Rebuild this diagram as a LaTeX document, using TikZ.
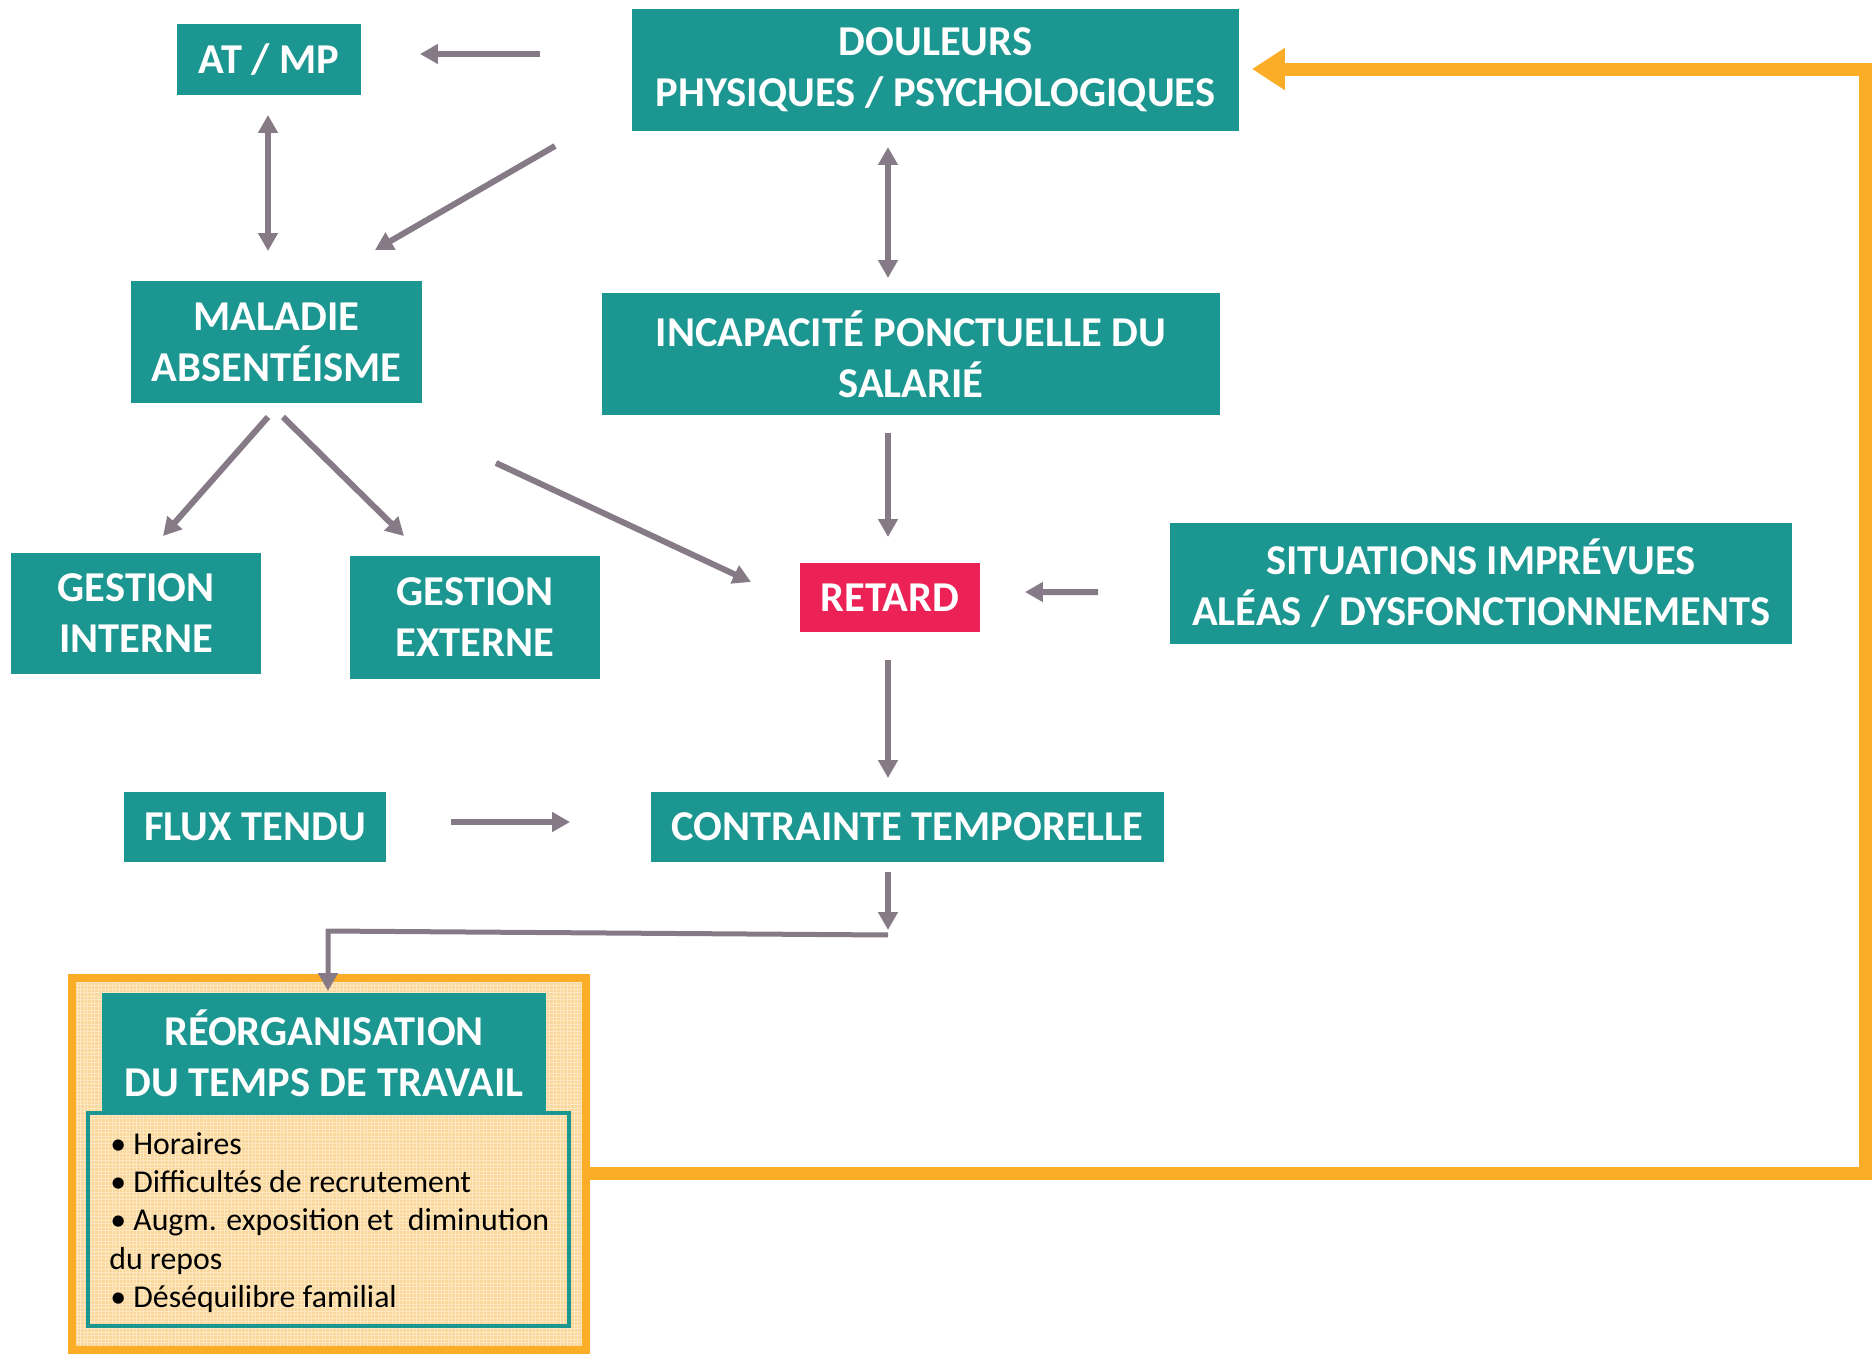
\documentclass[tikz,border=0pt]{standalone}
\usepackage{fontspec}
\setmainfont{Carlito}
\usetikzlibrary{arrows.meta,calc}
\definecolor{tealbg}{RGB}{27,150,144}
\definecolor{retardred}{RGB}{236,33,86}
\definecolor{arrowgray}{RGB}{133,122,133}
\definecolor{framegold}{RGB}{252,173,40}
\definecolor{peach}{RGB}{250,215,152}
\definecolor{peachgrid}{RGB}{253,232,195}
\tikzset{
  box/.style={fill=tealbg, text=white, font=\bfseries\fontsize{24.2}{29}\selectfont,
    align=center, inner sep=0pt, outer sep=0pt},
  graytip/.tip={Triangle[length=0.36cm,width=0.38cm]},
  conn/.style={draw=arrowgray, line width=0.12cm, -graytip},
  biconn/.style={draw=arrowgray, line width=0.12cm, graytip-graytip},
  elbow/.style={draw=arrowgray, line width=0.1cm, line join=miter, -graytip},
  feedback/.style={draw=framegold, line width=0.26cm, line join=miter,
    -{Triangle[length=0.66cm,width=0.8cm]}},
  listtext/.style={font=\fontsize{18.1}{22}\selectfont, anchor=base west, inner sep=0pt}
}
\begin{document}
\begin{tikzpicture}[x=0.02cm,y=-0.02cm]
\useasboundingbox (0,0) rectangle (1874,1356);

% main boxes
\node[box, minimum width=3.68cm, minimum height=1.42cm] (atmp) at (269,59.5) {AT / MP};
\node[box, minimum width=12.14cm, minimum height=2.44cm] (douleurs) at (935.5,70)
  {DOULEURS\\PHYSIQUES / PSYCHOLOGIQUES};
\node[box, minimum width=5.82cm, minimum height=2.44cm] (maladie) at (276.5,342)
  {MALADIE\\ABSENTÉISME};
\node[box, minimum width=12.36cm, minimum height=2.44cm] (incap) at (911,354)
  {INCAPACITÉ PONCTUELLE DU\\SALARIÉ};
\node[box, minimum width=5.0cm, minimum height=2.42cm] (ginterne) at (136,613.5)
  {GESTION\\INTERNE};
\node[box, minimum width=5.0cm, minimum height=2.46cm] (gexterne) at (475,617.5)
  {GESTION\\EXTERNE};
\node[box, fill=retardred, minimum width=3.6cm, minimum height=1.38cm] (retard) at (890,597.5)
  {RETARD};
\node[box, minimum width=12.44cm, minimum height=2.42cm] (situations) at (1481,583.5)
  {SITUATIONS IMPRÉVUES\\ALÉAS / DYSFONCTIONNEMENTS};
\node[box, minimum width=5.24cm, minimum height=1.40cm] (flux) at (255,827) {FLUX TENDU};
\node[box, minimum width=10.26cm, minimum height=1.40cm] (contrainte) at (907.5,827)
  {CONTRAINTE TEMPORELLE};

% framed block with the reorganisation and its list
\node[draw=framegold, line width=0.16cm, fill=peach, inner sep=0pt, outer sep=0pt,
  minimum width=10.28cm, minimum height=7.44cm,
  path picture={\draw[peachgrid, line width=0.35pt, step=0.07cm]
    (path picture bounding box.south west) grid (path picture bounding box.north east);}]
  (orgbox) at (329,1164) {};
\node[draw=tealbg, line width=0.08cm, inner sep=0pt, outer sep=0pt,
  minimum width=9.62cm, minimum height=4.26cm] (listbox) at (328.5,1219.5) {};
\node[box, minimum width=8.88cm, minimum height=2.40cm] (reorg) at (324,1053)
  {RÉORGANISATION\\DU TEMPS DE TRAVAIL};
\node[listtext] (li1) at (110,1154) {• Horaires};
\node[listtext] (li2) at (110,1192) {• Difficultés de recrutement};
\node[listtext] (li3) at (110,1230.5) {• Augm. exposition et~ diminution};
\node[listtext] (li4) at (109,1269) {du repos};
\node[listtext] (li5) at (110,1307) {• Déséquilibre familial};

% gray connectors
\draw[conn] ($(douleurs.west)+(-92,-16)$) -- ($(atmp.east)+(59,-5.5)$);
\draw[biconn] ($(atmp.south)+(-1,20)$) -- ($(maladie.north)+(-8.5,-30)$);
\draw[conn] ($(douleurs.south west)+(-77,15)$) -- ($(maladie.north east)+(-47,-31)$);
\draw[biconn] ($(douleurs.south)+(-47.5,16)$) -- ($(incap.north)+(-23,-15)$);
\draw[conn] ($(maladie.south)+(-8.5,14)$) -- ($(ginterne.north)+(27,-17)$);
\draw[conn] ($(maladie.south)+(6.5,14)$) -- ($(gexterne.north)+(-71,-20)$);
\draw[conn] ($(maladie.south east)+(74,60)$) -- ($(retard.west)+(-49,-15.5)$);
\draw[conn] ($(incap.south)+(-23,18)$) -- ($(retard.north)+(-2,-26)$);
\draw[conn] ($(situations.west)+(-72,8.5)$) -- ($(retard.east)+(45,-5.5)$);
\draw[conn] ($(retard.south)+(-2,28)$) -- ($(contrainte.north)+(-19.5,-14)$);
\draw[conn] ($(flux.east)+(65,-5)$) -- ($(contrainte.west)+(-81,-5)$);
\coordinate (bend) at ($(contrainte.south)+(-19.5,68)$);
\draw[conn] ($(contrainte.south)+(-19.5,10)$) -- (bend);
\draw[elbow] ($(bend)+(0,5)$) -- ($(reorg.north)+(4,-62)$) -- ($(reorg.north)+(4,-2)$);

% feedback loop back to the pains
\draw[feedback] ($(orgbox.east)+(0,9)$) -| ($(douleurs.east)+(627,-1)$)
  -- ($(douleurs.east)+(13,-1)$);
\end{tikzpicture}
\end{document}
